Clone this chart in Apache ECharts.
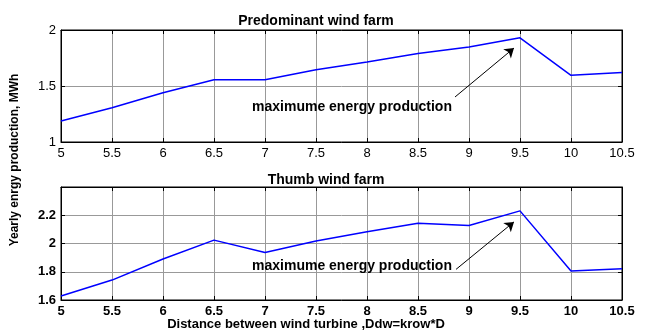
<!DOCTYPE html>
<html><head><meta charset="utf-8">
<script src="https://cdn.jsdelivr.net/npm/echarts@6/dist/echarts.min.js"></script>
<style>html,body{margin:0;padding:0;background:#fff}#c{width:646px;height:334px}</style>
</head><body><div id="c"></div>
<script>
const distances = [5, 5.5, 6, 6.5, 7, 7.5, 8, 8.5, 9, 9.5, 10, 10.5];
const predominant = [1.188, 1.306, 1.44, 1.556, 1.556, 1.645, 1.714, 1.79, 1.848, 1.93, 1.595, 1.62];
const thumb = [1.628, 1.741, 1.89, 2.024, 1.937, 2.017, 2.083, 2.144, 2.128, 2.231, 1.805, 1.821];
const topArrow = [[8.863, 1.402], [9.441, 1.839]];
const bottomArrow = [[8.873, 1.817], [9.441, 2.153]];
const topTextAt = [7.853, 1.315];
const bottomTextAt = [7.853, 1.84];
const annotation = 'maximume energy production';

const FF = '"Liberation Sans", Arial, sans-serif';
const chart = echarts.init(document.getElementById('c'), null, {renderer: 'canvas'});

function xAx(gi, showLabels, bold) {
  return {
    type: 'value', gridIndex: gi, min: 5, max: 10.5, interval: 0.5,
    axisLine: {show: true, lineStyle: {color: '#000', width: 1}},
    axisTick: {show: true, inside: true, length: 4, lineStyle: {color: '#000'}},
    axisLabel: {show: showLabels, color: '#000', fontFamily: FF, fontSize: 13, fontWeight: bold ? 'bold' : 'normal', margin: 5,
      formatter: v => String(v)},
    splitLine: {show: true, lineStyle: {color: '#999', width: 1}}
  };
}
function xAxTop(gi) {
  return {
    type: 'value', gridIndex: gi, position: 'top', min: 5, max: 10.5, interval: 0.5,
    axisLine: {show: true, lineStyle: {color: '#000'}},
    axisTick: {show: true, inside: true, length: 4, lineStyle: {color: '#000'}},
    axisLabel: {show: false}, splitLine: {show: false}
  };
}
function yAx(gi, min, max, interval, bold, hideMax) {
  return {
    type: 'value', gridIndex: gi, min, max, interval,
    axisLine: {show: true, lineStyle: {color: '#000'}},
    axisTick: {show: true, inside: true, length: 4, lineStyle: {color: '#000'}},
    axisLabel: {color: '#000', fontFamily: FF, fontSize: 13, fontWeight: bold ? 'bold' : 'normal', margin: 5,
      showMaxLabel: !hideMax, formatter: v => String(+v.toFixed(2))},
    splitLine: {show: true, lineStyle: {color: '#999', width: 1}}
  };
}
function yAxRight(gi, min, max, interval) {
  return {
    type: 'value', gridIndex: gi, position: 'right', min, max, interval,
    axisLine: {show: true, lineStyle: {color: '#000'}},
    axisTick: {show: true, inside: true, length: 4, lineStyle: {color: '#000'}},
    axisLabel: {show: false}, splitLine: {show: false}
  };
}
function annot(xi, yi, arrow, textAt) {
  return {
    type: 'line', xAxisIndex: xi, yAxisIndex: yi, data: [], silent: true,
    markLine: {
      silent: true, symbol: ['none', 'arrow'], symbolSize: 9, animation: false,
      lineStyle: {color: '#000', width: 1, type: 'solid'}, label: {show: false},
      data: [[{coord: arrow[0]}, {coord: arrow[1]}]]
    },
    markPoint: {
      silent: true, symbol: 'circle', symbolSize: 0, animation: false,
      label: {show: true, position: 'inside', color: '#000', fontFamily: FF, fontSize: 14, fontWeight: 'bold', formatter: annotation},
      data: [{coord: textAt}]
    }
  };
}

chart.setOption({
  animation: false,
  backgroundColor: '#fff',
  title: [
    {text: 'Predominant wind farm', left: 311, top: 9, textAlign: 'center',
     textStyle: {fontFamily: FF, fontSize: 14, fontWeight: 'bold', color: '#000'}},
    {text: 'Thumb wind farm', left: 321, top: 168, textAlign: 'center',
     textStyle: {fontFamily: FF, fontSize: 14, fontWeight: 'bold', color: '#000'}}
  ],
  graphic: [
    {type: 'text', x: 15, y: 160, rotation: Math.PI / 2, style: {text: 'Yearly enrgy production, MWh', fontFamily: FF, fontSize: 12, fontWeight: 'bold', fill: '#000', align: 'center', verticalAlign: 'middle'}},
    {type: 'text', x: 306, y: 324, style: {text: 'Distance between wind turbine ,Ddw=krow*D', fontFamily: FF, fontSize: 13, fontWeight: 'bold', fill: '#000', align: 'center', verticalAlign: 'middle'}}
  ],
  grid: [
    {left: 61, right: 24, top: 30, height: 112, show: true, borderColor: '#000', borderWidth: 1, backgroundColor: '#fff'},
    {left: 61, right: 24, top: 187, height: 113, show: true, borderColor: '#000', borderWidth: 1, backgroundColor: '#fff'}
  ],
  xAxis: [xAx(0, true, false), xAx(1, true, true), xAxTop(0), xAxTop(1)],
  yAxis: [yAx(0, 1, 2, 0.5, false, false), yAx(1, 1.6, 2.4, 0.2, true, true), yAxRight(0, 1, 2, 0.5), yAxRight(1, 1.6, 2.4, 0.2)],
  series: [
    {type: 'line', xAxisIndex: 0, yAxisIndex: 0, data: distances.map((d, i) => [d, predominant[i]]),
     showSymbol: false, lineStyle: {color: '#0000ff', width: 1.5}, itemStyle: {color: '#0000ff'}},
    {type: 'line', xAxisIndex: 1, yAxisIndex: 1, data: distances.map((d, i) => [d, thumb[i]]),
     showSymbol: false, lineStyle: {color: '#0000ff', width: 1.5}, itemStyle: {color: '#0000ff'}},
    annot(0, 0, topArrow, topTextAt),
    annot(1, 1, bottomArrow, bottomTextAt)
  ]
});
</script></body></html>
